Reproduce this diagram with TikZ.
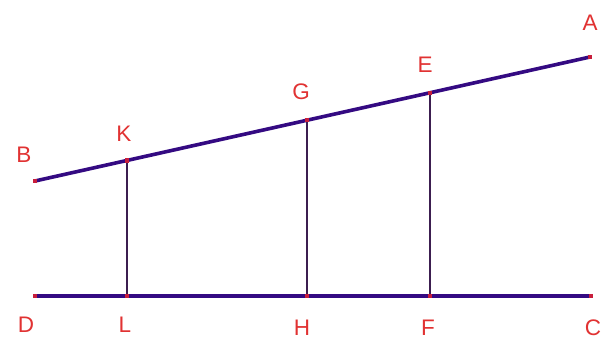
\documentclass[tikz,border=0pt]{standalone}
\usepackage{fontspec}
\setmainfont{Liberation Sans}
\begin{document}
\begin{tikzpicture}[x=1pt,y=-1pt,
  thickline/.style={draw=linecol,line width=3.6pt},
  thinline/.style={draw=thincol,line width=1.1pt},
  lbl/.style={text=lblcol,font=\fontsize{22.5}{22.5}\selectfont,inner sep=0pt,anchor=center},
  pt/.style={fill=ptcol,minimum size=4.5pt,inner sep=0pt,draw=none,shape=rectangle}]
\definecolor{linecol}{RGB}{52,10,130}
\definecolor{thincol}{RGB}{60,30,80}
\definecolor{lblcol}{RGB}{225,50,50}
\definecolor{ptcol}{RGB}{200,30,60}
\useasboundingbox (0,0) rectangle (608,339);
\fill[white] (0,0) rectangle (608,339);
\coordinate (A) at (590,57);
\coordinate (B) at (35,181);
\coordinate (K) at (127,160.4);
\coordinate (G) at (307,120.2);
\coordinate (E) at (430,92.8);
\coordinate (D) at (35,296);
\coordinate (C) at (591,296);
\coordinate (L) at (127,296);
\coordinate (H) at (307,296);
\coordinate (F) at (430,296);
\draw[thinline] (K) -- (L);
\draw[thinline] (G) -- (H);
\draw[thinline] (E) -- (F);
\draw[thickline] (B) -- (A);
\draw[thickline] (D) -- (C);
\foreach \p in {A,B,K,G,E,D,C,L,H,F} \node[pt] at (\p) {};
\node[lbl] (lA) at (590,23) {A};
\node[lbl] (lE) at (425,65) {E};
\node[lbl] (lG) at (301,92) {G};
\node[lbl] (lK) at (124,134) {K};
\node[lbl] (lB) at (24,155) {B};
\node[lbl] (lD) at (26,325) {D};
\node[lbl] (lL) at (125,325) {L};
\node[lbl] (lH) at (302,328) {H};
\node[lbl] (lF) at (428,328) {F};
\node[lbl] (lC) at (593,328) {C};
\end{tikzpicture}
\end{document}
